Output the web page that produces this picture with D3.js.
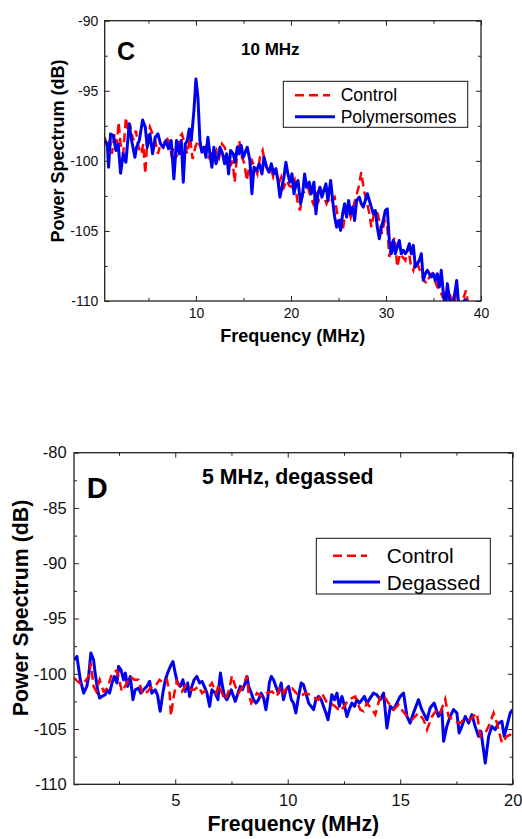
<!DOCTYPE html>
<html>
<head>
<meta charset="utf-8">
<script src="https://cdn.jsdelivr.net/npm/d3@7"></script>
<style>
  body { margin: 0; background: #fff; }
  svg { display: block; font-family: "Liberation Sans", Arial, sans-serif; }
</style>
</head>
<body>
<svg id="chart" width="522" height="839"></svg>
<script>
// ---- Panel C: 10 MHz, [frequency MHz, power dB] ----
const cControl = [
  [0.39,-98.31],[0.67,-99.03],[0.95,-98.55],[1.16,-99.5],[1.44,-98.08],[1.65,-99.26],[1.86,-97.24],[2.07,-98.79],
  [2.35,-99.5],[2.63,-96.89],[2.88,-98.08],[3.12,-97.6],[3.40,-98.55],[3.68,-97.84],[3.96,-99.03],[4.25,-99.5],
  [4.46,-98.79],[4.67,-100.93],[4.88,-98.55],[5.16,-97.6],[5.44,-98.08],[5.72,-98.55],[6.0,-99.5],[6.28,-98.79],
  [6.56,-99.03],[6.84,-98.31],[7.12,-98.55],[7.40,-99.5],[7.68,-99.03],[7.96,-99.74],[8.25,-98.31],[8.53,-98.08],
  [8.81,-98.79],[9.09,-99.5],[9.37,-98.31],[9.65,-99.86],[9.93,-99.03],[10.21,-98.55],[10.49,-99.03],[10.77,-99.5],
  [11.05,-99.03],[11.33,-99.74],[11.61,-99.5],[11.89,-99.98],[12.18,-99.26],[12.46,-99.74],[12.74,-98.79],[13.02,-99.03],
  [13.30,-99.74],[13.58,-100.45],[13.86,-99.98],[14.07,-101.52],[14.35,-99.5],[14.56,-98.55],[14.84,-99.74],[15.12,-100.21],
  [15.33,-101.4],[15.61,-100.45],[15.89,-99.98],[16.18,-100.45],[16.46,-100.93],[16.74,-99.74],[17.02,-99.26],[17.30,-100.21],
  [17.58,-100.69],[17.86,-100.45],[18.14,-101.16],[18.42,-100.69],[18.70,-101.64],[18.98,-101.16],[19.26,-101.88],[19.54,-101.4],
  [19.82,-101.76],[20.11,-101.88],[20.39,-101.4],[20.67,-102.83],[20.95,-103.54],[21.23,-102.35],[21.51,-102.11],[21.79,-101.88],
  [22.07,-102.59],[22.35,-103.06],[22.63,-102.35],[22.91,-102.83],[23.19,-102.11],[23.47,-102.59],[23.75,-103.06],[24.04,-102.59],
  [24.32,-102.83],[24.60,-102.59],[24.88,-103.78],[25.16,-104.25],[25.44,-104.96],[25.72,-103.78],[26.0,-103.3],[26.28,-104.01],
  [26.56,-103.3],[26.84,-102.59],[27.12,-101.88],[27.40,-100.81],[27.68,-102.11],[27.96,-102.83],[28.25,-103.78],[28.46,-104.73],
  [28.74,-103.78],[29.02,-103.54],[29.30,-104.25],[29.58,-105.2],[29.86,-104.25],[30.14,-104.73],[30.35,-106.86],[30.63,-105.91],
  [30.91,-105.44],[31.19,-107.58],[31.47,-106.63],[31.75,-106.86],[32.04,-107.1],[32.32,-106.15],[32.60,-107.34],[32.88,-107.81],
  [33.16,-107.1],[33.44,-107.58],[33.72,-108.05],[34.0,-108.53],[34.28,-108.76],[34.56,-108.29],[34.84,-108.05],[35.12,-108.53],
  [35.40,-109.0],[35.68,-109.24],[35.96,-109.71],[36.25,-109.48],[36.53,-110.3],[36.81,-109.71],[37.09,-110.3],[37.44,-109.48],
  [37.79,-110.3],[38.14,-109.83],[38.42,-109.24],[38.67,-110.3]
];

const cPolymersomes = [
  [0.39,-98.55],[0.67,-98.79],[0.81,-100.45],[1.02,-98.08],[1.30,-98.19],[1.58,-99.26],[1.82,-98.79],[2.07,-100.88],
  [2.35,-99.5],[2.63,-100.1],[2.98,-97.36],[3.23,-98.55],[3.58,-99.74],[3.75,-99.03],[4.04,-98.55],[4.39,-97.08],
  [4.67,-97.6],[4.88,-99.03],[5.16,-98.08],[5.44,-99.5],[5.72,-98.31],[6.0,-98.08],[6.28,-98.79],[6.56,-99.03],
  [6.84,-98.55],[7.12,-99.14],[7.40,-98.55],[7.68,-101.28],[7.96,-98.55],[8.25,-99.5],[8.46,-98.55],[8.67,-101.52],
  [8.88,-98.79],[9.09,-98.55],[9.30,-97.72],[9.51,-98.55],[9.79,-96.41],[10.0,-94.16],[10.21,-95.46],[10.42,-98.55],
  [10.63,-99.38],[10.84,-99.03],[11.05,-99.74],[11.26,-98.31],[11.47,-99.5],[11.68,-100.45],[11.89,-99.03],[12.11,-100.21],
  [12.32,-99.74],[12.53,-99.03],[12.81,-99.5],[13.02,-100.21],[13.23,-99.5],[13.44,-100.93],[13.65,-99.26],[13.93,-99.5],
  [14.14,-100.1],[14.35,-99.03],[14.56,-99.5],[14.77,-98.91],[14.98,-99.74],[15.19,-99.38],[15.40,-99.03],[15.68,-99.98],
  [15.89,-102.35],[16.11,-100.45],[16.39,-100.69],[16.67,-100.21],[16.95,-100.93],[17.16,-99.74],[17.44,-100.45],[17.72,-100.81],
  [17.93,-100.21],[18.21,-100.93],[18.42,-100.57],[18.63,-101.4],[18.84,-102.59],[19.05,-101.88],[19.26,-101.16],[19.47,-100.1],
  [19.68,-100.93],[19.89,-101.52],[20.11,-100.93],[20.32,-102.35],[20.53,-101.64],[20.74,-101.4],[21.02,-103.06],[21.23,-102.35],
  [21.44,-100.93],[21.65,-101.88],[21.93,-101.52],[22.14,-102.35],[22.42,-101.52],[22.63,-103.78],[22.84,-102.35],[23.05,-101.88],
  [23.26,-102.59],[23.47,-102.11],[23.68,-101.64],[23.89,-102.83],[24.18,-101.4],[24.39,-102.83],[24.60,-104.01],[24.81,-104.73],
  [25.02,-104.25],[25.23,-104.96],[25.44,-103.78],[25.65,-103.06],[25.86,-104.01],[26.07,-102.83],[26.28,-103.78],[26.49,-103.3],
  [26.70,-104.25],[26.91,-102.83],[27.19,-102.59],[27.40,-103.06],[27.61,-103.3],[27.82,-102.83],[28.04,-102.35],[28.25,-102.83],
  [28.46,-103.3],[28.67,-103.78],[28.88,-103.54],[29.09,-104.73],[29.30,-105.56],[29.51,-104.73],[29.72,-104.25],[29.93,-103.54],
  [30.14,-103.42],[30.35,-105.68],[30.56,-106.63],[30.77,-105.68],[30.98,-106.63],[31.19,-106.15],[31.40,-105.68],[31.61,-106.63],
  [31.82,-106.39],[32.04,-106.63],[32.25,-106.39],[32.46,-105.91],[32.67,-106.63],[32.88,-106.03],[33.09,-107.58],[33.30,-107.34],
  [33.51,-107.1],[33.72,-106.63],[33.93,-108.53],[34.14,-108.05],[34.35,-107.81],[34.56,-108.05],[34.77,-108.29],[34.98,-108.05],
  [35.19,-108.53],[35.40,-108.05],[35.61,-109.0],[35.82,-107.81],[36.04,-109.48],[36.25,-110.4],[36.46,-108.76],[36.67,-109.83],
  [36.88,-110.3],[37.09,-109.95],[37.30,-109.24],[37.44,-108.53],[37.65,-110.3],[37.96,-110.2],[38.32,-109.9],[38.67,-110.2]
];

// ---- Panel D: 5 MHz, degassed ----
const dControl = [
  [0.51,-100.39],[0.66,-100.69],[0.85,-100.99],[1.04,-100.54],[1.15,-100.24],[1.25,-99.04],[1.37,-101.14],[1.49,-101.6],
  [1.64,-100.54],[1.81,-101.6],[1.99,-101.3],[2.19,-99.94],[2.41,-99.7],[2.63,-101.6],[2.85,-100.84],[3.0,-100.24],
  [3.18,-100.54],[3.37,-100.54],[3.56,-101.9],[3.77,-101.6],[3.96,-101.14],[4.11,-101.14],[4.30,-100.54],[4.48,-100.84],
  [4.63,-100.54],[4.75,-101.75],[4.81,-103.8],[4.93,-102.05],[5.07,-100.69],[5.30,-101.6],[5.49,-100.99],[5.67,-101.45],
  [5.84,-101.45],[6.04,-101.14],[6.19,-101.75],[6.41,-101.45],[6.63,-100.84],[6.82,-101.75],[6.93,-100.99],[7.07,-101.75],
  [7.22,-102.35],[7.40,-101.45],[7.52,-100.18],[7.67,-101.14],[7.81,-101.75],[8.01,-101.14],[8.19,-100.18],[8.26,-101.75],
  [8.38,-102.65],[8.63,-101.75],[8.85,-102.05],[9.07,-101.75],[9.30,-101.6],[9.52,-102.05],[9.67,-101.14],[9.81,-101.75],
  [9.96,-101.3],[10.19,-101.3],[10.38,-101.75],[10.56,-102.05],[10.78,-101.75],[11.0,-101.9],[11.22,-102.2],[11.37,-102.35],
  [11.52,-101.75],[11.71,-102.5],[11.89,-102.65],[12.11,-102.95],[12.33,-103.4],[12.51,-102.95],[12.70,-102.35],[12.85,-102.2],
  [13.0,-102.05],[13.22,-103.25],[13.37,-103.4],[13.52,-102.65],[13.70,-103.1],[13.89,-103.7],[14.11,-102.05],[14.29,-102.05],
  [14.48,-102.65],[14.70,-103.25],[14.93,-102.8],[15.07,-103.25],[15.30,-103.86],[15.52,-104.16],[15.81,-103.55],[16.04,-104.16],
  [16.19,-105.06],[16.41,-103.86],[16.63,-103.25],[16.78,-103.55],[17.0,-102.29],[17.15,-103.86],[17.44,-104.31],[17.67,-104.46],
  [17.81,-104.16],[18.11,-104.16],[18.41,-103.55],[18.56,-105.66],[18.78,-105.36],[18.93,-104.76],[19.15,-103.55],[19.30,-104.46],
  [19.52,-106.27],[19.74,-105.66],[19.89,-105.51],[20.0,-105.21]
];

const dDegassed = [
  [0.51,-98.73],[0.63,-98.43],[0.78,-100.54],[0.93,-101.75],[1.07,-101.14],[1.15,-100.24],[1.25,-98.13],[1.37,-98.73],
  [1.44,-99.94],[1.55,-101.45],[1.64,-102.2],[1.74,-102.05],[1.89,-101.9],[1.96,-101.45],[2.08,-101.75],[2.19,-100.84],
  [2.29,-100.24],[2.41,-100.84],[2.48,-99.34],[2.59,-99.64],[2.70,-100.54],[2.78,-99.94],[2.88,-101.14],[3.0,-100.24],
  [3.12,-102.35],[3.22,-101.45],[3.37,-101.3],[3.47,-101.75],[3.59,-101.45],[3.74,-101.14],[3.86,-100.69],[3.96,-101.75],
  [4.11,-101.45],[4.21,-101.9],[4.33,-103.4],[4.45,-101.75],[4.56,-100.54],[4.66,-99.94],[4.78,-99.34],[4.90,-98.89],
  [5.0,-99.94],[5.10,-100.84],[5.22,-101.14],[5.34,-100.54],[5.44,-101.6],[5.55,-100.84],[5.64,-102.05],[5.74,-101.14],
  [5.84,-100.54],[5.96,-100.24],[6.08,-100.84],[6.19,-100.69],[6.29,-101.14],[6.41,-101.75],[6.53,-102.95],[6.63,-101.45],
  [6.78,-101.75],[6.90,-102.35],[6.96,-100.84],[7.01,-99.94],[7.10,-101.14],[7.19,-102.05],[7.30,-102.35],[7.40,-101.9],
  [7.49,-101.45],[7.59,-102.05],[7.67,-102.5],[7.79,-101.75],[7.89,-101.14],[7.99,-101.45],[8.11,-100.84],[8.19,-100.24],
  [8.26,-101.14],[8.38,-101.75],[8.48,-102.35],[8.59,-102.65],[8.70,-102.35],[8.82,-101.75],[8.93,-102.2],[9.03,-103.25],
  [9.12,-102.05],[9.18,-100.84],[9.27,-100.24],[9.37,-100.54],[9.47,-101.14],[9.59,-101.75],[9.71,-100.84],[9.81,-102.35],
  [9.92,-101.45],[10.04,-101.14],[10.16,-102.35],[10.26,-102.65],[10.36,-103.55],[10.48,-102.05],[10.60,-100.84],[10.70,-100.99],
  [10.81,-101.75],[10.93,-102.65],[11.04,-102.95],[11.15,-103.25],[11.25,-102.35],[11.37,-102.05],[11.49,-102.35],[11.59,-102.95],
  [11.70,-103.55],[11.79,-104.16],[11.89,-102.95],[11.96,-101.9],[12.08,-102.35],[12.19,-101.75],[12.29,-102.95],[12.41,-102.05],
  [12.53,-102.95],[12.63,-103.86],[12.73,-103.25],[12.85,-102.65],[12.97,-102.95],[13.07,-102.35],[13.18,-102.65],[13.30,-102.35],
  [13.41,-102.05],[13.52,-102.65],[13.81,-101.75],[13.96,-101.9],[14.11,-102.35],[14.26,-101.75],[14.41,-104.91],[14.56,-102.95],
  [14.70,-103.25],[14.85,-102.65],[15.0,-102.05],[15.15,-101.75],[15.30,-103.86],[15.44,-104.46],[15.59,-103.55],[15.81,-102.35],
  [15.96,-103.25],[16.11,-103.86],[16.19,-104.16],[16.33,-103.1],[16.51,-102.65],[16.70,-103.86],[16.85,-103.25],[16.93,-106.11],
  [17.07,-104.76],[17.22,-103.86],[17.37,-103.25],[17.52,-103.55],[17.62,-105.36],[17.74,-104.76],[17.89,-103.86],[18.04,-104.46],
  [18.19,-103.7],[18.33,-104.76],[18.48,-105.66],[18.59,-105.21],[18.78,-108.07],[18.93,-105.66],[19.07,-104.76],[19.22,-105.06],
  [19.37,-104.46],[19.52,-104.31],[19.62,-105.66],[19.74,-104.76],[19.89,-103.55],[20.0,-103.25]
];

// Tick values
const cXTicks = [10, 20, 30, 40];
const cXMinor = [5, 15, 25, 35];
const cYTicks = [-110, -105, -100, -95, -90];
const cYMinor = [-107.5, -102.5, -97.5, -92.5];
const dXTicks = [5, 10, 15, 20];
const dXMinor = [2.5, 7.5, 12.5, 17.5];
const dYTicks = [-110, -105, -100, -95, -90, -85, -80];
const dYMinor = [-107.5, -102.5, -97.5, -92.5, -87.5, -82.5];

const svg = d3.select("#chart");
const RED = "#ff0000";
const BLUE = "#0000f0";
const INK = "#222";

function tickAxis(g, axisFn, scale, values, size, pad, fontSize, showLabels, transform) {
  const axis = axisFn(scale)
    .tickValues(values)
    .tickSize(-size) // ticks point into the plot
    .tickPadding(pad)
    .tickFormat(showLabels ? (d) => String(d) : "");
  const a = g.append("g").attr("transform", transform).call(axis);
  a.select(".domain").remove();
  a.selectAll(".tick line").attr("stroke", INK).attr("stroke-width", 1);
  a.selectAll(".tick text")
    .attr("fill", "#111")
    .style("font-size", fontSize + "px")
    .style("font-family", '"Liberation Sans", Arial, sans-serif');
}

function drawPanel(p) {
  const x = d3.scaleLinear().domain(p.xDomain).range([p.left, p.right]);
  const y = d3.scaleLinear().domain(p.yDomain).range([p.bottom, p.top]);
  const g = svg.append("g");

  // Clip the traces to the frame
  g.append("clipPath")
    .attr("id", p.id + "-clip")
    .append("rect")
    .attr("x", p.left)
    .attr("y", p.top)
    .attr("width", p.right - p.left)
    .attr("height", p.bottom - p.top);

  const line = d3.line().x((d) => x(d[0])).y((d) => y(d[1]));
  const traces = g.append("g").attr("clip-path", `url(#${p.id}-clip)`);

  const drawControl = () =>
    traces.append("path")
      .datum(p.control)
      .attr("fill", "none")
      .attr("stroke", RED)
      .attr("stroke-width", 2.5)
      .attr("stroke-dasharray", "9,5")
      .attr("d", line);
  const drawSample = () =>
    traces.append("path")
      .datum(p.sample)
      .attr("fill", "none")
      .attr("stroke", BLUE)
      .attr("stroke-width", 3)
      .attr("stroke-linejoin", "round")
      .attr("d", line);

  if (p.controlOnTop) { drawSample(); drawControl(); } else { drawControl(); drawSample(); }

  // Axes with inward ticks on all four sides
  const bottom = `translate(0,${p.bottom})`;
  const top = `translate(0,${p.top})`;
  const left = `translate(${p.left},0)`;
  const right = `translate(${p.right},0)`;
  tickAxis(g, d3.axisBottom, x, p.xTicks, 5, p.xPad, p.tickFont, true, bottom);
  tickAxis(g, d3.axisBottom, x, p.xMinor, 3, 0, p.tickFont, false, bottom);
  tickAxis(g, d3.axisTop, x, p.xTicks, 5, 0, p.tickFont, false, top);
  tickAxis(g, d3.axisTop, x, p.xMinor, 3, 0, p.tickFont, false, top);
  tickAxis(g, d3.axisLeft, y, p.yTicks, 5, p.yPad, p.tickFont, true, left);
  tickAxis(g, d3.axisLeft, y, p.yMinor, 3, 0, p.tickFont, false, left);
  tickAxis(g, d3.axisRight, y, p.yTicks, 5, 0, p.tickFont, false, right);
  tickAxis(g, d3.axisRight, y, p.yMinor, 3, 0, p.tickFont, false, right);

  // Frame
  g.append("rect")
    .attr("x", p.left)
    .attr("y", p.top)
    .attr("width", p.right - p.left)
    .attr("height", p.bottom - p.top)
    .attr("fill", "none")
    .attr("stroke", INK)
    .attr("stroke-width", 1.3);

  // Axis titles
  g.append("text")
    .attr("x", (p.left + p.right) / 2)
    .attr("y", p.xTitleY)
    .attr("text-anchor", "middle")
    .style("font-size", p.titleFont + "px")
    .style("font-weight", "bold")
    .text("Frequency (MHz)");

  g.append("text")
    .attr("transform", `translate(${p.yTitleX},${p.yTitleCy}) rotate(-90)`)
    .attr("text-anchor", "middle")
    .style("font-size", p.titleFont + "px")
    .style("font-weight", "bold")
    .text("Power Spectrum (dB)");

  // Panel letter and condition
  g.append("text")
    .attr("x", p.letterX)
    .attr("y", p.letterY)
    .style("font-size", p.letterFont + "px")
    .style("font-weight", "bold")
    .text(p.letter);

  g.append("text")
    .attr("x", p.condX)
    .attr("y", p.condY)
    .style("font-size", p.condFont + "px")
    .style("font-weight", "bold")
    .text(p.condition);

  // Legend
  const L = p.legend;
  g.append("rect")
    .attr("x", L.x)
    .attr("y", L.y)
    .attr("width", L.w)
    .attr("height", L.h)
    .attr("fill", "#fff")
    .attr("stroke", "#111")
    .attr("stroke-width", 1);

  g.append("line")
    .attr("x1", L.lineX).attr("x2", L.lineX + L.redLen)
    .attr("y1", L.row1).attr("y2", L.row1)
    .attr("stroke", RED).attr("stroke-width", 2.5).attr("stroke-dasharray", "9,5");
  g.append("line")
    .attr("x1", L.lineX).attr("x2", L.lineX + L.blueLen)
    .attr("y1", L.row2).attr("y2", L.row2)
    .attr("stroke", BLUE).attr("stroke-width", 3);

  g.append("text")
    .attr("x", L.textX).attr("y", L.base1)
    .style("font-size", L.font + "px")
    .text(p.labels[0]);
  g.append("text")
    .attr("x", L.textX).attr("y", L.base2)
    .style("font-size", L.font + "px")
    .text(p.labels[1]);
}

drawPanel({
  id: "c",
  left: 104.7, right: 481, top: 20.7, bottom: 301,
  xDomain: [0.4, 40], yDomain: [-110, -90],
  xTicks: cXTicks, xMinor: cXMinor, yTicks: cYTicks, yMinor: cYMinor,
  tickFont: 14, xPad: 7, yPad: 6.4,
  control: cControl, sample: cPolymersomes, controlOnTop: false,
  titleFont: 18, xTitleY: 341.5, yTitleX: 63.8, yTitleCy: 151,
  letter: "C", letterX: 117, letterY: 60, letterFont: 25,
  condition: "10 MHz", condX: 241, condY: 55, condFont: 17,
  labels: ["Control", "Polymersomes"],
  legend: { x: 283.3, y: 81.3, w: 184.4, h: 46, lineX: 295, redLen: 35, blueLen: 40,
            row1: 95.3, row2: 116.7, textX: 340.7, base1: 100.7, base2: 123, font: 17.5 }
});

drawPanel({
  id: "d",
  left: 74, right: 512.7, top: 452.7, bottom: 784.3,
  xDomain: [0.5, 20], yDomain: [-110, -80],
  xTicks: dXTicks, xMinor: dXMinor, yTicks: dYTicks, yMinor: dYMinor,
  tickFont: 16.5, xPad: 10, yPad: 7.3,
  control: dControl, sample: dDegassed, controlOnTop: true,
  titleFont: 21.3, xTitleY: 831, yTitleX: 28.2, yTitleCy: 608,
  letter: "D", letterX: 86.7, letterY: 498.3, letterFont: 29,
  condition: "5 MHz, degassed", condX: 202, condY: 484.3, condFont: 21.3,
  labels: ["Control", "Degassed"],
  legend: { x: 316.3, y: 538.3, w: 174, h: 55.7, lineX: 333, redLen: 34, blueLen: 47,
            row1: 555.7, row2: 582, textX: 386.7, base1: 562.7, base2: 590, font: 20.8 }
});
</script>
</body>
</html>
